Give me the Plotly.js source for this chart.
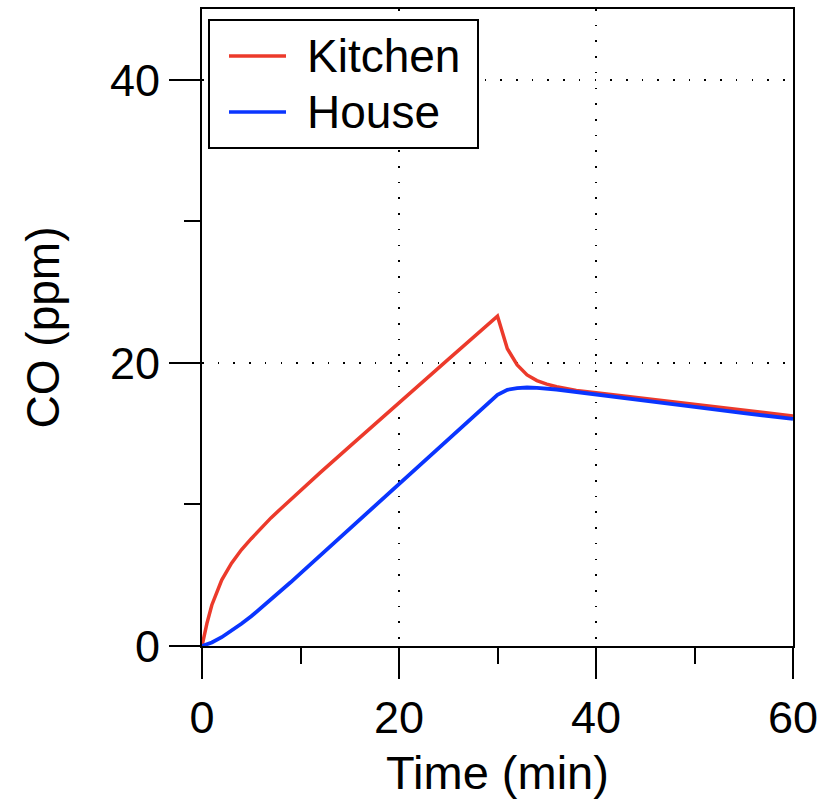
<!DOCTYPE html>
<html>
<head>
<meta charset="utf-8">
<script src="https://cdn.plot.ly/plotly-3.0.1.min.js"></script>
<style>html,body{margin:0;padding:0;background:#fff;}#chart{width:829px;height:801px;}</style>
</head>
<body>
<div id="chart"></div>
<script>
// Kitchen CO (ppm) vs time (min)
const kitchenTime = [0, 0.5, 1, 2, 3, 4, 5, 6, 7, 8, 9, 10, 12, 15, 20, 25, 30, 31, 32, 33, 34, 35, 36, 38, 40, 45, 50, 55, 60];
const kitchenCO   = [0, 1.6, 2.9, 4.66, 5.85, 6.8, 7.58, 8.35, 9.05, 9.7, 10.35, 11.0, 12.25, 14.1, 17.2, 20.25, 23.3, 21.0, 19.85, 19.15, 18.75, 18.5, 18.32, 18.05, 17.9, 17.5, 17.08, 16.66, 16.25];
// House CO (ppm) vs time (min)
const houseTime = [0, 1, 2, 3, 4, 5, 6, 7, 8, 9, 10, 12, 15, 20, 25, 28, 29, 30, 31, 32, 33, 34, 36, 38, 40, 45, 50, 55, 60];
const houseCO   = [0, 0.25, 0.62, 1.07, 1.57, 2.1, 2.68, 3.27, 3.88, 4.5, 5.13, 6.39, 8.28, 11.43, 14.58, 16.45, 17.1, 17.75, 18.1, 18.22, 18.26, 18.24, 18.12, 17.95, 17.8, 17.35, 16.9, 16.45, 16.05];
const seriesNames = ['Kitchen', 'House'];
const xTicks = [0, 20, 40, 60];
const yTicks = [0, 20, 40];

const FONT = 'Liberation Sans, Arial, Helvetica, sans-serif';
const COLORS = ['#EC3A2B', '#0A35FF'];

const traces = [
  {x: kitchenTime, y: kitchenCO, name: seriesNames[0], type: 'scatter', mode: 'lines',
   line: {color: COLORS[0], width: 3.5}},
  {x: houseTime, y: houseCO, name: seriesNames[1], type: 'scatter', mode: 'lines',
   line: {color: COLORS[1], width: 3.8}}
];

// Legend box drawn in paper coordinates (plot area 591 x 637 px)
const W = 591, H = 637;
const px = v => v / W, py = v => 1 - v / H;
const legendBox = {x0: px(7), x1: px(276), y0: py(139), y1: py(11)};
const rowY = [py(47), py(103)];
const shapes = [
  {type: 'rect', xref: 'paper', yref: 'paper', x0: legendBox.x0, x1: legendBox.x1, y0: legendBox.y0, y1: legendBox.y1,
   line: {color: '#000', width: 2}, fillcolor: '#fff', layer: 'above'}
];
const annotations = [];
traces.forEach((t, i) => {
  shapes.push({type: 'line', xref: 'paper', yref: 'paper', x0: px(27), x1: px(84), y0: rowY[i], y1: rowY[i],
    line: {color: t.line.color, width: 3.5}, layer: 'above'});
  annotations.push({xref: 'paper', yref: 'paper', x: px(103), y: rowY[i], xanchor: 'left', yanchor: 'middle',
    text: t.name, showarrow: false, yshift: 0, font: {family: FONT, size: 46, color: '#000'}});
});

const axisCommon = {
  showline: true, linecolor: '#000', linewidth: 2, mirror: true,
  ticks: 'outside', ticklen: 31, tickwidth: 2, tickcolor: '#000',
  showgrid: true, gridcolor: '#000', gridwidth: 1.6, griddash: '1.6px,14.1px',
  zeroline: false,
  tickfont: {family: FONT, size: 45, color: '#000'},
  automargin: false
};

const layout = {
  width: 829, height: 801,
  margin: {l: 202, r: 36, t: 9, b: 155, pad: 0},
  paper_bgcolor: '#fff', plot_bgcolor: '#fff',
  font: {family: FONT, size: 45, color: '#000'},
  showlegend: false,
  shapes: shapes,
  annotations: annotations,
  xaxis: Object.assign({}, axisCommon, {
    range: [0, 60], tickmode: 'array', tickvals: xTicks, ticktext: xTicks.map(String),
    minor: {dtick: 10, ticks: 'outside', ticklen: 16, tickwidth: 2, tickcolor: '#000', showgrid: false},
    title: {text: 'Time (min)', font: {family: FONT, size: 47, color: '#000'}, standoff: 14}
  }),
  yaxis: Object.assign({}, axisCommon, {
    range: [0, 45], tickmode: 'array', tickvals: yTicks, ticktext: yTicks.map(String),
    minor: {dtick: 10, ticks: 'outside', ticklen: 16, tickwidth: 2, tickcolor: '#000', showgrid: false},
    title: {text: 'CO (ppm)', font: {family: FONT, size: 46, color: '#000'}, standoff: 36}
  })
};

Plotly.newPlot('chart', traces, layout, {staticPlot: true, displayModeBar: false});
</script>
</body>
</html>
